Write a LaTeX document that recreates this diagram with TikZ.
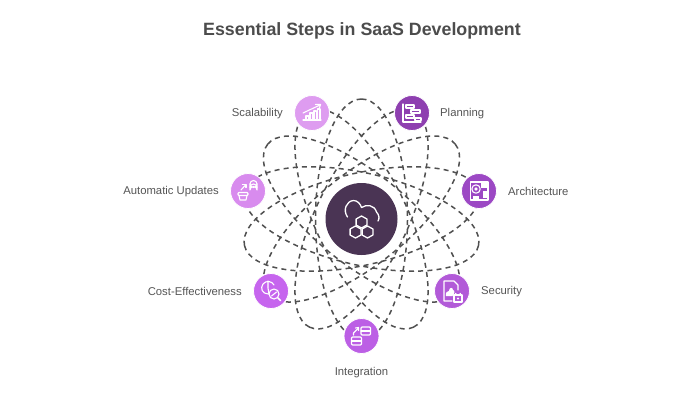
\documentclass[tikz,border=0pt]{standalone}
\usepackage{fontspec}
\setmainfont{Liberation Sans}
\definecolor{orbit}{HTML}{505050}
\definecolor{ink}{HTML}{555555}
\definecolor{hub}{HTML}{4A3454}
\tikzset{
  x=1pt,y=-1pt,
  orbitline/.style={draw=orbit,line width=1.5pt,dash pattern=on 5pt off 4.2pt},
  stepnode/.style={circle,minimum size=35pt,inner sep=0pt,draw=white,line width=0.8pt},
  hubnode/.style={circle,minimum size=72pt,inner sep=0pt,fill=hub},
  lbl/.style={text=ink,font=\fontsize{11.3}{13}\selectfont,inner sep=0pt},
  icon/.style={draw=white,line width=1.1pt,line join=round,line cap=round},
}
\begin{document}
\begin{tikzpicture}
\useasboundingbox[fill=white] (0,0) rectangle (700,400);
\coordinate (c) at (361.5,219);
\foreach \k in {0,...,6}{
  \pgfmathsetmacro{\ang}{90+\k*51.4286}
  \draw[orbitline,rotate around={\ang:(c)}] (c) ellipse [x radius=120,y radius=46];
}
\node[hubnode] (hub) at (c) {};
\node[stepnode,fill={rgb,255:red,222;green,156;blue,240}] (scal) at (312,113) {};
\node[stepnode,fill={rgb,255:red,142;green,63;blue,176}] (plan) at (412,113) {};
\node[stepnode,fill={rgb,255:red,156;green,72;blue,196}] (arch) at (479,191) {};
\node[stepnode,fill={rgb,255:red,178;green,90;blue,216}] (secu) at (452,291) {};
\node[stepnode,fill={rgb,255:red,188;green,95;blue,229}] (inte) at (361.5,336) {};
\node[stepnode,fill={rgb,255:red,198;green,101;blue,238}] (cost) at (271,291) {};
\node[stepnode,fill={rgb,255:red,216;green,139;blue,238}] (auto) at (248,191) {};

\node[text=ink!90!black,font=\fontsize{17.8}{21}\bfseries\selectfont,inner sep=0pt] (title) at (362,31) {Essential Steps in SaaS Development};
\node[lbl,anchor=east] (lscal) at (283,114) {Scalability};
\node[lbl,anchor=west] (lplan) at (440,114) {Planning};
\node[lbl,anchor=west] (larch) at (508,191.5) {Architecture};
\node[lbl,anchor=west] (lsecu) at (481,291.5) {Security};
\node[lbl] (linte) at (361.5,372.5) {Integration};
\node[lbl,anchor=east] (lcost) at (242,291.5) {Cost-Effectiveness};
\node[lbl,anchor=east] (lauto) at (219,191.5) {Automatic Updates};

% hub icon
\begin{scope}[shift={(hub.center)}]
  \draw[icon,line width=1.3pt] (-14,-2) .. controls (-19,-9) and (-15,-18) .. (-8,-18.5)
     .. controls (-4,-18.5) and (-1,-15) .. (0,-11.5)
     .. controls (5,-15) and (13,-14) .. (15,-7)
     .. controls (18,-4) and (18,0) .. (16.5,2);
  \foreach \hx/\hy in {0/3,-6/13,6/13}{
    \draw[icon,line width=1.3pt,shift={(\hx,\hy)}] (0,-6) -- (5.4,-3) -- (5.4,3) -- (0,6) -- (-5.4,3) -- (-5.4,-3) -- cycle;
  }
\end{scope}

% scalability icon
\begin{scope}[shift={(scal.center)}]
  \draw[icon] (-9,0) -- (8,-8);
  \draw[icon] (3.5,-8.5) -- (8.5,-8.5) -- (7,-4);
  \draw[icon] (-9,7) -- (9,7);
  \draw[icon] (-6,7) rectangle (-3,3);
  \draw[icon] (-2,7) rectangle (1,0);
  \draw[icon] (2,7) rectangle (4.5,-2);
  \draw[icon] (5.5,7) rectangle (8,-4);
\end{scope}

% planning icon
\begin{scope}[shift={(plan.center)}]
  \draw[icon] (-9,-9) -- (-9,9) -- (9,9);
  \draw[icon] (-6,-8) rectangle (2,-5);
  \draw[icon] (-1,-3) rectangle (8,0);
  \draw[icon] (-6,2) rectangle (2,5);
  \draw[icon] (3,5) rectangle (9,7.5);
\end{scope}

% architecture icon
\begin{scope}[shift={(arch.center)}]
  \draw[icon] (-8.5,-9) rectangle (9,9);
  \draw[icon] (-3,-2) circle (4.2);
  \draw[icon] (-3,-2) circle (1.2);
  \fill[white] (2,-8) rectangle (8,-3);
  \fill[white] (-6.5,5) rectangle (0,8);
  \fill[white] (4,0) rectangle (8,7);
\end{scope}

% security icon
\begin{scope}[shift={(secu.center)}]
  \draw[icon] (0,10) -- (-8,10) -- (-8,-10) -- (2,-10) -- (6,-6) -- (6,-1);
  \fill[white] (-6,5) .. controls (-7,1) and (-4,0) .. (-3,0) .. controls (-3,-4) and (1,-4) .. (1,-1) .. controls (3,-1) and (3,3) .. (0.5,5) -- cycle;
  \draw[icon] (2,4) rectangle (10,11);
  \draw[icon] (3.7,4) -- (3.7,2.3) arc (180:0:2.3) -- (8.3,4);
  \fill[white] (6,7.5) circle (1.1);
\end{scope}

% integration icon
\begin{scope}[shift={(inte.center)}]
  \draw[icon,rounded corners=1pt] (-0.5,-9) rectangle (9,-1);
  \draw[icon] (-0.5,-5) -- (9,-5);
  \draw[icon,rounded corners=1pt] (-10,1) rectangle (0,9);
  \draw[icon] (-10,5) -- (0,5);
  \draw[icon] (-8,-1) -- (-8,-3) -- (-3,-8);
  \draw[icon] (-6,-8) -- (-3,-8.5) -- (-3,-5.5);
\end{scope}

% cost icon
\begin{scope}[shift={(cost.center)}]
  \draw[icon] (-2.5,3) .. controls (-9,3) and (-11,-3) .. (-8,-7) .. controls (-5,-11) and (1,-10) .. (3,-6);
  \draw[icon] (-3,-10) -- (-3,-3) -- (-2,3);
  \draw[icon] (3,3) circle (5);
  \draw[icon] (0.5,5) -- (5.5,1);
  \draw[icon,line width=1.5pt] (6.8,6.8) -- (9.5,9.5);
\end{scope}

% automatic updates icon
\begin{scope}[shift={(auto.center)}]
  \draw[icon] (2,-7) arc (180:0:3.5) -- (9,-1) arc (0:-180:3.5) -- cycle;
  \draw[icon] (2,-7) arc (180:360:3.5);
  \draw[icon] (2,-3.5) arc (180:360:3.5);
  \draw[icon,rounded corners=1pt] (-10,1.5) rectangle (0,4.5);
  \draw[icon] (-9,4.5) -- (-8,9) -- (-2,9) -- (-1,4.5);
  \draw[icon] (-7,-1) -- (-2.5,-6);
  \draw[icon] (-5.5,-6.5) -- (-2,-6.5) -- (-2,-3.5);
\end{scope}
\end{tikzpicture}
\end{document}
